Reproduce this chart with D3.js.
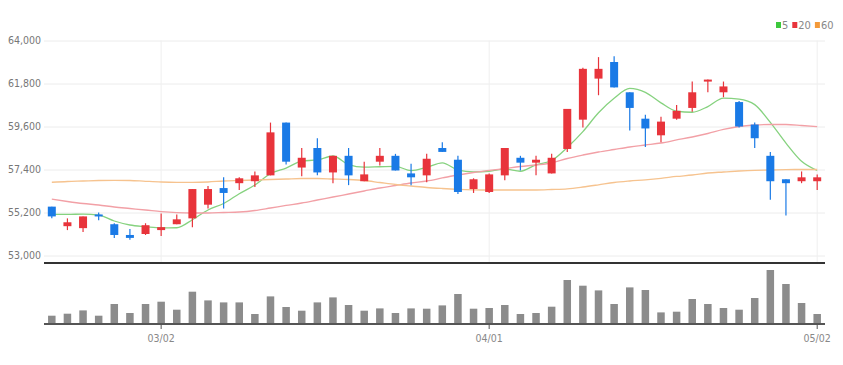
<!DOCTYPE html>
<html>
<head>
<meta charset="utf-8">
<script src="https://cdn.jsdelivr.net/npm/d3@7"></script>
<style>
  html, body { margin: 0; padding: 0; background: #fff; }
  svg { display: block; }
  text { font-family: "Liberation Sans Narrow", "DejaVu Sans Condensed", "Liberation Sans", sans-serif; }
</style>
</head>
<body>
<svg id="chart" width="843" height="365"></svg>
<script>
// trading days, MM/DD
let dates = ['02/18','02/21','02/22','02/23','02/24','02/25','02/28',
  '03/02','03/03','03/04','03/07','03/08','03/10','03/11','03/14','03/15','03/16','03/17','03/18',
  '03/21','03/22','03/23','03/24','03/25','03/28','03/29','03/30','03/31',
  '04/01','04/04','04/05','04/06','04/07','04/08','04/11','04/12','04/13','04/14','04/15',
  '04/18','04/19','04/20','04/21','04/22','04/25','04/26','04/27','04/28','04/29','05/02'];
let tick_dates = ['03/02', '04/01', '05/02'];
let price_ticks = [53000, 55200, 57400, 59600, 61800, 64000];

let open_prices = [55500,54500,54400,55100,54600,54050,54100,54300,54600,54900,55600,56450,56700,56800,57100,59800,57500,58500,57250,58100,
  56800,57800,58100,57200,57100,58500,57900,56400,56250,57100,58000,57750,57200,58450,59950,62050,62900,61350,60000,59150,
  60000,60550,61900,61350,60850,59700,58100,56900,56800,56800];
let close_prices = [55000,54700,55000,55000,54050,53900,54550,54450,54850,56400,56400,56200,56950,57100,59300,57800,58000,57250,58100,57100,
  57150,58100,57350,57000,57950,58300,56250,56900,57150,58500,57750,57900,58000,60500,62550,62550,61600,60550,59500,59850,
  60400,61350,62000,61650,59600,59000,56800,56700,57000,57000];
let high_prices = [55500,54900,55000,55200,54650,54350,54650,55150,55100,56400,56550,57000,57000,57300,59800,59800,58500,59000,58100,58500,
  57800,58500,58200,57700,58200,58800,58100,56950,57200,58500,58100,58100,58200,60500,62600,63150,63200,61350,60200,60100,
  60700,61900,62000,61900,60900,59800,58300,56900,57300,57150];
let low_prices = [54900,54300,54200,54800,53900,53800,54050,54000,54600,54450,55400,55400,56350,56500,57100,57650,57050,57100,56700,56600,
  56800,57600,57350,56600,56750,58300,56150,56200,56200,56850,57350,57100,57200,58300,59550,61200,61600,59400,58550,58800,
  59950,60350,61350,61100,59550,58500,55850,55050,56700,56350];
// volume, thousand shares
let volumes = [830,1030,1360,830,2000,1100,2000,2230,1430,3230,2360,2160,2160,1000,2760,1700,1330,2160,2660,1900,
  1330,1560,1100,1560,1530,1860,3000,1530,1600,1900,1000,1100,1730,4400,3830,3360,2000,3660,3400,1160,
  1230,2500,2000,1600,1430,2600,5400,4000,2100,1000];

// moving averages
let ma5 = [55100,55100,55120,55070,54765,54560,54475,54410,54420,54830,55330,55660,56160,56610,57190,57470,57830,57890,58090,57650,
  57520,57540,57560,57340,57510,57740,57370,57280,57310,57420,57310,57640,57860,58530,59340,60300,61040,61550,61350,60810,
  60380,60330,60620,61050,61000,60720,59810,58750,57820,57350];
let ma20 = [55880,55763,55660,55584,55482,55405,55328,55241,55190,55175,55175,55200,55226,55303,55430,55560,55686,55840,55993,56147,
  56300,56454,56582,56710,56812,56966,57119,57247,57350,57452,57554,57631,57733,57963,58142,58296,58424,58551,58654,58756,
  58910,59063,59242,59447,59600,59677,59702,59702,59651,59590];
let ma60 = [56746,56787,56812,56838,56848,56838,56797,56761,56746,56746,56761,56812,56838,56863,56889,56914,56940,56940,56914,56889,
  56838,56735,56633,56556,56480,56428,56387,56362,56352,56352,56352,56352,56377,56413,56505,56617,56735,56812,56873,56950,
  57043,57119,57221,57273,57323,57359,57375,57395,57400,57400];

let ma_series = [
  {name: '5', values: ma5, line: '#86d27f', key: '#3cc83c'},
  {name: '20', values: ma20, line: '#f2a0a6', key: '#e8343b'},
  {name: '60', values: ma60, line: '#f6c38f', key: '#f39a3a'}
];

let up_color = '#e8343b';
let down_color = '#1a7ae6';

let svg = d3.select('#chart');
let left = 44, right = 825;
let price_top = 40.5, price_bottom = 255.5, price_panel_bottom = 263;
let vol_base = 324, vol_top = 270;

let x = d3.scaleBand().domain(d3.range(dates.length)).range([left, right]).padding(0);
let cx = i => x(i) + x.bandwidth() / 2;
let y = d3.scaleLinear().domain([53000, 64000]).range([price_bottom, price_top]);
let yv = d3.scaleLinear().domain([0, d3.max(volumes)]).range([vol_base, vol_top]);

// horizontal grid + price labels
let y_axis = svg.append('g').attr('class', 'y_axis').attr('transform', 'translate(' + left + ',0)')
  .call(d3.axisLeft(y).tickValues(price_ticks).tickSize(-(right - left)).tickPadding(3).tickFormat(d3.format(',')));
y_axis.select('.domain').remove();
y_axis.selectAll('line').attr('stroke', '#ececec').attr('stroke-width', 1);
y_axis.selectAll('text').attr('fill', '#777').attr('font-size', 10.5);

// vertical grid at date ticks
let tick_idx = tick_dates.map(d => dates.indexOf(d));
svg.append('g').selectAll('line').data(tick_idx).enter().append('line')
  .attr('x1', d => cx(d)).attr('x2', d => cx(d))
  .attr('y1', price_top).attr('y2', price_panel_bottom)
  .attr('stroke', '#efefef').attr('stroke-width', 1);

// price panel bottom
svg.append('line').attr('x1', left).attr('x2', right).attr('y1', price_panel_bottom).attr('y2', price_panel_bottom)
  .attr('stroke', '#333').attr('stroke-width', 2);

// moving average lines
let line_gen = d3.line().x((d, i) => cx(i)).y(d => y(d)).curve(d3.curveMonotoneX);
svg.append('g').selectAll('path').data(ma_series).enter().append('path')
  .attr('d', d => line_gen(d.values))
  .attr('fill', 'none').attr('stroke', d => d.line).attr('stroke-width', 1.3);

// candles
let candles = d3.range(dates.length).map(i => ({
  i: i, o: open_prices[i], c: close_prices[i], h: high_prices[i], l: low_prices[i]
}));
let body_w = 8;
let candle_g = svg.append('g').selectAll('g').data(candles).enter().append('g')
  .attr('fill', d => d.c >= d.o ? up_color : down_color)
  .attr('stroke', d => d.c >= d.o ? up_color : down_color);
candle_g.append('line')
  .attr('x1', d => cx(d.i)).attr('x2', d => cx(d.i))
  .attr('y1', d => y(d.h)).attr('y2', d => y(d.l)).attr('stroke-width', 1.2);
candle_g.append('rect')
  .attr('x', d => cx(d.i) - body_w / 2).attr('width', body_w)
  .attr('y', d => y(Math.max(d.o, d.c)))
  .attr('height', d => Math.max(2, Math.abs(y(d.o) - y(d.c))))
  .attr('stroke', 'none');

// volume bars
let bar_w = 7.5;
svg.append('g').selectAll('rect').data(volumes).enter().append('rect')
  .attr('x', (d, i) => cx(i) - bar_w / 2).attr('width', bar_w)
  .attr('y', d => yv(d)).attr('height', d => vol_base - yv(d))
  .attr('fill', '#8c8c8c');

// volume baseline + date axis
let x_axis = svg.append('g').attr('transform', 'translate(0,' + vol_base + ')')
  .call(d3.axisBottom(x).tickValues(tick_idx).tickSize(5).tickPadding(6).tickFormat(i => dates[i]));
x_axis.select('.domain').attr('d', 'M' + left + ',0H' + right).attr('stroke', '#555').attr('stroke-width', 2);
x_axis.selectAll('.tick line').attr('stroke', '#555');
x_axis.selectAll('text').attr('fill', '#888').attr('font-size', 10.5);

// legend
let legend = svg.append('g').attr('transform', 'translate(776,25)');
let lx = 0;
ma_series.forEach(s => {
  legend.append('rect').attr('x', lx).attr('y', -3).attr('width', 5).attr('height', 6).attr('fill', s.key);
  let t = legend.append('text').attr('x', lx + 6).attr('y', 3.5).attr('font-size', 11).attr('fill', '#888').text(s.name);
  lx += 6 + t.node().getComputedTextLength() + 4;
});
</script>
</body>
</html>
